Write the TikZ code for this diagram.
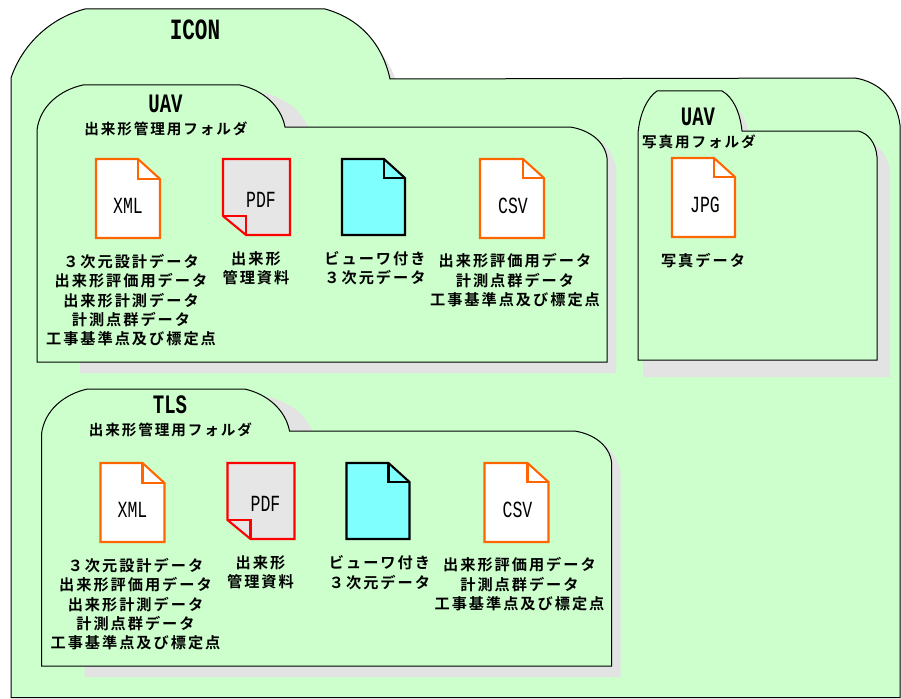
\documentclass[tikz,border=0pt]{standalone}
\usepackage{fontspec}
\usepackage{graphicx}
\newfontfamily\jp[LetterSpace=13,BoldFont={Noto Sans CJK JP Bold}]{Noto Sans CJK JP}
\setmonofont{Liberation Mono}
\newcommand{\tallword}[1]{\scalebox{1}[1.4]{#1}}
\definecolor{foldergreen}{HTML}{CCFFCC}
\definecolor{shadowgray}{HTML}{E3E3E3}
\definecolor{docorange}{HTML}{FF6600}
\definecolor{pdfgray}{HTML}{E6E6E6}
\definecolor{viewcyan}{HTML}{80FFFF}
\tikzset{
  folderbody/.style={draw=black,line width=1pt,fill=foldergreen},
  foldershadow/.style={fill=shadowgray,draw=none},
  docline/.style={line width=2.1pt,line join=miter},
  orangedoc/.style={docline,draw=docorange,fill=white},
  cyandoc/.style={docline,draw=black,fill=viewcyan},
  pdfdoc/.style={docline,draw=red,fill=pdfgray},
  jptext/.style={inner sep=0pt,align=center,font=\jp\bfseries\fontsize{15.2}{19.3}\selectfont},
  namelabel/.style={inner sep=0pt,align=center,font=\jp\bfseries\fontsize{14.6}{19.3}\selectfont},
  bigtitle/.style={inner sep=0pt,font=\ttfamily\bfseries\fontsize{21}{21}\selectfont},
  foldertitle/.style={inner sep=0pt,font=\ttfamily\bfseries\fontsize{19}{19}\selectfont},
  doctext/.style={inner sep=0pt,font=\ttfamily\fontsize{16.5}{16.5}\selectfont},
}
% page icon with the fold at the top right: x0,y0,x1,y1,foldx,foldy
\newcommand{\pageicon}[7]{%
  \draw[#1] (#2,#3) -- (#6,#3) -- (#4,#7) -- (#4,#5) -- (#2,#5) -- cycle;
  \draw[#1,fill=none] (#6,#3) -- (#6,#7) -- (#4,#7);
}
% management folder: prefix, shift x, shift y, title, title offset
\newcommand{\mgmtfolder}[5]{%
\begin{scope}[shift={(#2,#3)}]
  \path[foldershadow] (80,373) -- (616,373) -- (616,167) .. controls (612,150) and (600,136) .. (580,130)
     -- (308,127) .. controls (300,110) and (288,100) .. (265,93) -- (240,100) -- (80,200) -- cycle;
  \path[folderbody] (37,362) -- (37,130) .. controls (40,106) and (60,90) .. (83,85) -- (240,85)
     .. controls (263,90) and (281,106) .. (285,127) -- (570,127)
     .. controls (590,130) and (605,142) .. (607,158) -- (607,362) -- cycle;
  \node[foldertitle] (#1title) at (165.5,104+#5) {\tallword{#4}};
  \node[namelabel] (#1name) at (166,129+#5) {出来形管理用フォルダ};
  \pageicon{orangedoc}{96}{159}{160}{238}{138}{179}
  \node[doctext] (#1xml) at (128,206) {\tallword{XML}};
  \draw[pdfdoc] (223,159) -- (290,159) -- (290,235) -- (246,235) -- (223,216) -- cycle;
  \draw[pdfdoc,fill=none] (223,216) -- (246,216) -- (246,235);
  \node[doctext] (#1pdf) at (261,200) {\tallword{PDF}};
  \pageicon{cyandoc}{342}{159}{405}{235}{384}{178}
  \pageicon{orangedoc}{480}{159}{544}{238}{523}{178}
  \node[doctext] (#1csv) at (513,206) {\tallword{CSV}};
  \node[jptext,anchor=north] (#1xmltext) at (131,254) {３次元設計データ\\出来形評価用データ\\出来形計測データ\\計測点群データ\\工事基準点及び標定点};
  \node[jptext,anchor=north] (#1pdftext) at (256,251.5) {出来形\\管理資料};
  \node[jptext,anchor=north] (#1viewtext) at (375,251.5) {ビューワ付き\\３次元データ};
  \node[jptext,anchor=north] (#1csvtext) at (515,253.5) {出来形評価用データ\\計測点群データ\\工事基準点及び標定点};
\end{scope}}
\begin{document}
\begin{tikzpicture}[x=1pt,y=-1pt]
\useasboundingbox (0,0) rectangle (901,698);
\clip (0,0) rectangle (901,698);
% outer folder
\path[foldershadow] (325,17) .. controls (360,28) and (388,50) .. (398,87) -- (330,87) -- cycle;
\path[folderbody] (11,697.5) -- (11,78) .. controls (22,45) and (50,18) .. (85,9) -- (325,9)
   .. controls (358,18) and (382,42) .. (390,79) -- (855,78)
   .. controls (880,82) and (897,100) .. (900,125) -- (900,697.5) -- cycle;
\node[bigtitle] (icon) at (195,30) {\tallword{ICON}};
\mgmtfolder{uav}{0}{0}{UAV}{0}
\mgmtfolder{tls}{4.5}{304}{TLS}{-3.5}
% photo folder
\path[foldershadow] (643,377) -- (890,377) -- (890,170) .. controls (887,155) and (880,145) .. (865,140)
   -- (749,135) .. controls (747,122) and (742,112) .. (735,108) -- (700,200) -- (643,200) -- cycle;
\path[folderbody] (638,360) -- (638,133) .. controls (640,112) and (648,97) .. (657,91) -- (722,91)
   .. controls (733,97) and (740,112) .. (742,131) -- (858,131)
   .. controls (868,133) and (876,143) .. (877,157) -- (877,360) -- cycle;
\node[foldertitle] (phototitle) at (698,117) {\tallword{UAV}};
\node[namelabel] (photoname) at (699,142) {写真用フォルダ};
\pageicon{orangedoc}{672}{158}{735}{237}{714}{177}
\node[doctext] (jpg) at (705,205) {\tallword{JPG}};
\node[jptext] (phototext) at (703,261) {写真データ};
\end{tikzpicture}
\end{document}
